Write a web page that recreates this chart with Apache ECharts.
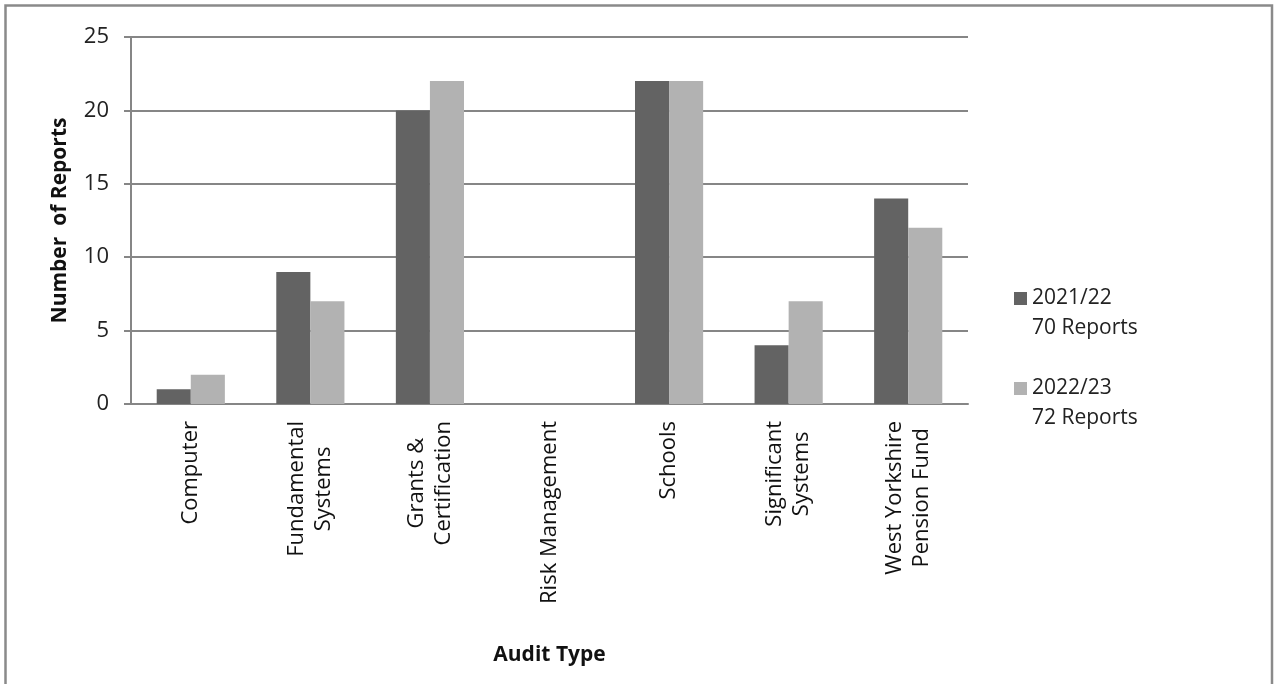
<!DOCTYPE html>
<html><head><meta charset="utf-8">
<script src="https://cdn.jsdelivr.net/npm/echarts@6/dist/echarts.min.js"></script>
<style>html,body{margin:0;padding:0;background:#fff}#c{width:1274px;height:684px}</style>
</head><body><div id="c"></div>
<script>
const categories = ['Computer', 'Fundamental\nSystems', 'Grants &\nCertification', 'Risk Management', 'Schools', 'Significant\nSystems', 'West Yorkshire\nPension Fund'];
const seriesNames = ['2021/22\n70 Reports', '2022/23\n72 Reports'];
const values2122 = [1, 9, 20, 0, 22, 4, 14];
const values2223 = [2, 7, 22, 0, 22, 7, 12];
const yTicks = {min: 0, max: 25, interval: 5};

const FONT = 'Open Sans';
const chart = echarts.init(document.getElementById('c'));
chart.setOption({
  animation: false,
  textStyle: {fontFamily: FONT},
  graphic: [{type: 'polyline', shape: {points: [[5.5, 690], [5.5, 5.5], [1272, 5.5], [1272, 690]]}, style: {fill: 'none', stroke: '#8a8a8a', lineWidth: 2.5}, silent: true}],
  grid: {left: 131, right: 306, top: 37, bottom: 280},
  legend: {
    orient: 'vertical', left: 1009, top: 253, itemWidth: 13, itemHeight: 13, itemGap: 9,
    icon: 'rect',
    formatter: n => '{e|}\n' + n.split('\n').map(s => '{t|' + s + '}').join('\n'),
    textStyle: {
      fontFamily: FONT, fontSize: 21, color: '#222',
      rich: {
        t: {fontFamily: FONT, fontSize: 21, color: '#222', lineHeight: 30},
        e: {fontFamily: FONT, fontSize: 21, lineHeight: 30}
      }
    },
    data: seriesNames
  },
  xAxis: {
    type: 'category', data: categories,
    name: 'Audit Type', nameLocation: 'middle', nameGap: 241,
    nameTextStyle: {fontFamily: FONT, fontSize: 21, fontWeight: 'bold', color: '#111'},
    axisLine: {lineStyle: {color: '#868686', width: 2}},
    axisTick: {show: false},
    axisLabel: {
      rotate: 90, margin: 17, interval: 0, color: '#111', fontSize: 22, fontFamily: FONT,
      formatter: v => v.split('\n').map(s => '{a|' + s + '}').join('\n'),
      rich: {a: {align: 'center', fontSize: 22, fontFamily: FONT, color: '#111', lineHeight: 27}}
    }
  },
  yAxis: {
    type: 'value', min: yTicks.min, max: yTicks.max, interval: yTicks.interval,
    name: 'Number  of Reports', nameLocation: 'middle', nameGap: 60,
    nameTextStyle: {fontFamily: FONT, fontSize: 21, fontWeight: 'bold', color: '#111'},
    axisLine: {show: true, lineStyle: {color: '#868686', width: 2}},
    axisTick: {show: true, length: 7, lineStyle: {color: '#868686', width: 2}},
    splitLine: {lineStyle: {color: '#868686', width: 2}},
    axisLabel: {fontSize: 22, color: '#222', margin: 22, fontFamily: FONT}
  },
  series: [
    {name: seriesNames[0], type: 'bar', data: values2122, barGap: '0%', barCategoryGap: '43%', itemStyle: {color: '#636363'}},
    {name: seriesNames[1], type: 'bar', data: values2223, barGap: '0%', barCategoryGap: '43%', itemStyle: {color: '#b2b2b2'}}
  ]
});
</script></body></html>
